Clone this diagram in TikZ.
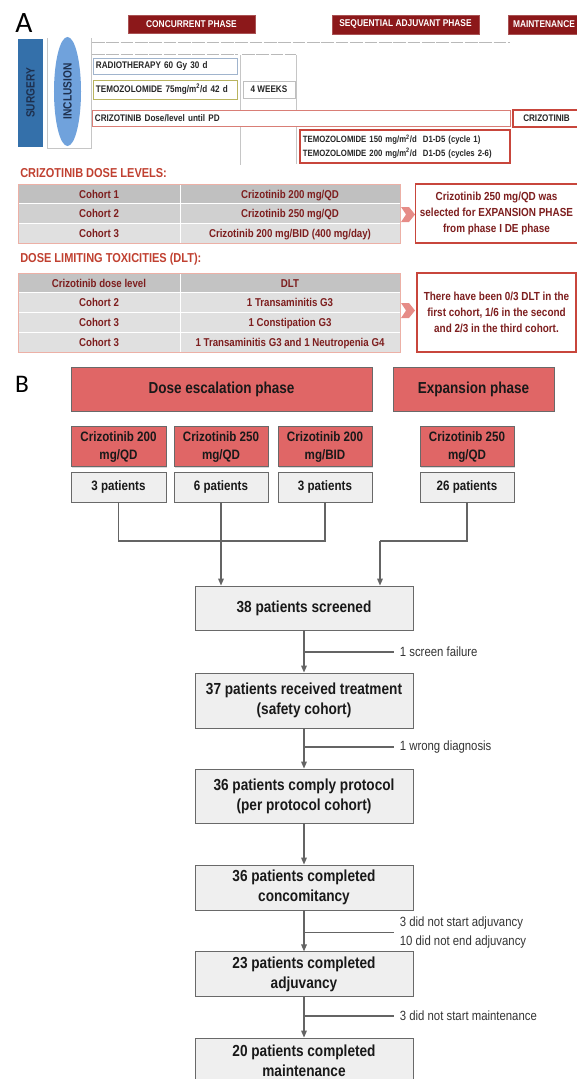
\documentclass[tikz,border=0pt]{standalone}
\usepackage{fontspec}
\setmainfont{Liberation Sans}[FakeStretch=0.85]
\newfontfamily\labfont{Carlito}
\usetikzlibrary{arrows.meta,shapes.geometric,shadows}

\definecolor{phasered}{RGB}{140,24,26}
\definecolor{surgblue}{RGB}{52,112,170}
\definecolor{inclblue}{RGB}{112,162,220}
\definecolor{navytext}{RGB}{30,48,78}
\definecolor{salmon}{RGB}{224,102,102}
\definecolor{boxgrey}{RGB}{239,239,239}
\definecolor{edgegrey}{RGB}{105,105,105}
\definecolor{linegrey}{RGB}{100,100,100}
\definecolor{rowdark}{RGB}{192,192,192}
\definecolor{rowmid}{RGB}{208,208,208}
\definecolor{rowlight}{RGB}{224,224,224}
\definecolor{tabframe}{RGB}{236,176,166}
\definecolor{maroon}{RGB}{125,30,30}
\definecolor{titlered}{RGB}{192,64,48}
\definecolor{sidered}{RGB}{200,70,60}
\definecolor{chevfill}{RGB}{230,140,135}
\definecolor{radioframe}{RGB}{160,180,205}
\definecolor{oliveframe}{RGB}{185,180,95}

\tikzset{
  phasebar/.style={fill=phasered,draw=phasered!75!white,text=white,inner sep=0pt,
    font=\fontsize{7}{8.4}\selectfont\bfseries},
  timeline/.style={draw=gray!55,line width=0.4pt,dash pattern=on 9pt off 1.2pt},
  guide/.style={draw=gray!45,line width=0.4pt},
  planbox/.style={draw,line width=0.5pt,fill=white,inner xsep=0.075cm,inner ysep=0pt,align=left,
    font=\fontsize{6.8}{10}\selectfont\bfseries,text=black!85},
  tabtitle/.style={text=titlered,inner sep=0pt,font=\fontsize{9.2}{11}\selectfont\bfseries},
  cell/.style={text=maroon,inner sep=0pt,text height=1.6ex,text depth=0.45ex,
    font=\fontsize{8.1}{9.7}\selectfont\bfseries},
  sidebox/.style={draw=sidered,line width=0.9pt,fill=white,align=center,text=maroon,
    font=\fontsize{8.3}{11.2}\selectfont\bfseries},
  headbar/.style={fill=salmon,draw=edgegrey,line width=0.6pt,text=black!90,
    drop shadow={shadow xshift=0.6pt,shadow yshift=-0.8pt,opacity=0.3},
    font=\fontsize{11.3}{13.5}\selectfont\bfseries},
  dosebox/.style={headbar,align=center,minimum height=0.975cm,
    font=\fontsize{9.7}{12.8}\selectfont\bfseries},
  ptsbox/.style={fill=boxgrey,draw=edgegrey,line width=0.6pt,text=black!90,minimum height=0.75cm,
    drop shadow={shadow xshift=0.6pt,shadow yshift=-0.8pt,opacity=0.3},
    font=\fontsize{9.7}{12.8}\selectfont\bfseries},
  flowbox/.style={fill=boxgrey,draw=edgegrey,line width=0.6pt,text=black!90,align=center,
    minimum width=5.45cm,drop shadow={shadow xshift=0.6pt,shadow yshift=-0.8pt,opacity=0.3},
    font=\fontsize{11.4}{14.2}\selectfont\bfseries},
  flowline/.style={draw=linegrey,line width=0.9pt},
  flowarrow/.style={flowline,-{Triangle[length=5pt,width=4pt]}},
  branchlabel/.style={text=black!80,inner xsep=4pt,inner ysep=0pt,align=left,
    font=\fontsize{9.5}{13.5}\selectfont}
}

\begin{document}
\begin{tikzpicture}[x=0.025cm,y=-0.025cm]
\useasboundingbox (0,0) rectangle (577,1079);

\node[font=\labfont\fontsize{21}{21}\selectfont,inner sep=0pt] (labA) at (24,23) {A};
\node[phasebar,minimum width=3.175cm,minimum height=0.45cm] (conc) at (191.5,24) {CONCURRENT PHASE};
\node[phasebar,minimum width=3.675cm,minimum height=0.475cm] (seqadj) at (405.5,24.5) {SEQUENTIAL ADJUVANT PHASE};
\node[phasebar,minimum width=1.8cm,minimum height=0.475cm] (maint) at (544,24.5) {MAINTENANCE};

\draw[timeline] (92,42) -- (510,42);
\draw[timeline] (92,54) -- (238,54);
\draw[timeline] (242,54) -- (296,54);
\draw[guide] (47,38) -- (47,148) -- (91,148) -- (91,38);
\draw[guide] (240,55) -- (240,165);
\draw[guide] (296,55) -- (296,164);

\node[rotate=90,fill=surgblue,text=navytext,inner sep=0pt,minimum width=2.7cm,minimum height=0.625cm,
  font=\fontsize{8.5}{10}\selectfont\bfseries] (surg) at (30.5,93) {SURGERY};
\node[rotate=90,ellipse,fill=inclblue,text=navytext,inner sep=0pt,minimum width=2.725cm,minimum height=0.675cm,
  font=\fontsize{8.5}{10}\selectfont\bfseries] (incl) at (67.5,91.5) {INCLUSION};

\node[planbox,draw=radioframe,text width=3.45cm,minimum height=0.4cm] (radio) at (165,66) {RADIOTHERAPY 60 Gy 30 d};
\node[planbox,draw=oliveframe,text width=3.45cm,minimum height=0.475cm] (tmzlow) at (165,89.5) {TEMOZOLOMIDE 75mg/m\textsuperscript{2}/d 42 d};
\node[planbox,draw=gray!50,align=center,minimum width=1.3cm,minimum height=0.425cm] (weeks) at (269,89.5) {4 WEEKS};
\node[planbox,draw=sidered!70,text width=10.3cm,minimum height=0.4cm] (crizo) at (301,118) {CRIZOTINIB Dose/level until PD};
\node[planbox,draw=sidered,line width=0.9pt,align=center,minimum width=1.675cm,minimum height=0.425cm] (crizomaint) at (546.5,118.5) {CRIZOTINIB};
\node[planbox,draw=sidered,line width=0.9pt,text width=5.1cm,minimum height=0.825cm,
  font=\fontsize{6.5}{9.8}\selectfont\bfseries] (tmzhigh) at (405,146.5)
  {TEMOZOLOMIDE 150 mg/m\textsuperscript{2}/d\ \ D1-D5 (cycle 1)\\TEMOZOLOMIDE 200 mg/m\textsuperscript{2}/d\ \ D1-D5 (cycles 2-6)};

\node[tabtitle,anchor=west] (dosetitle) at (20,173) {CRIZOTINIB DOSE LEVELS:};
\fill[rowdark] (18,184) rectangle (400,203.7);
\fill[rowmid] (18,203.7) rectangle (400,223.3);
\fill[rowlight] (18,223.3) rectangle (400,243);
\draw[white,line width=0.6pt] (18,203.7) -- (400,203.7) (18,223.3) -- (400,223.3) (180,184) -- (180,243);
\draw[tabframe,line width=0.6pt] (18,184) rectangle (400,243);
\node[cell] (coh1) at (99,193.8) {Cohort 1};
\node[cell] (dose1txt) at (290,193.8) {Crizotinib 200 mg/QD};
\node[cell] (coh2) at (99,213.5) {Cohort 2};
\node[cell] (dose2txt) at (290,213.5) {Crizotinib 250 mg/QD};
\node[cell] (coh3) at (99,233.1) {Cohort 3};
\node[cell] (dose3txt) at (290,233.1) {Crizotinib 200 mg/BID (400 mg/day)};
\fill[chevfill] (401,207) -- (409,207) -- (415,214.5) -- (409,222) -- (401,222) -- (406,214.5) -- cycle;
\node[sidebox,minimum width=3.975cm,minimum height=1.475cm] (select) at (496.5,213.5)
  {Crizotinib 250 mg/QD was\\selected for EXPANSION PHASE\\from phase I DE phase};

\node[tabtitle,anchor=west] (dlttitle) at (20,259) {DOSE LIMITING TOXICITIES (DLT):};
\fill[rowdark!95!white] (18,273) rectangle (400,292.75);
\fill[rowlight] (18,292.75) rectangle (400,352);
\draw[white,line width=0.6pt] (18,292.75) -- (400,292.75) (18,312.5) -- (400,312.5) (18,332.25) -- (400,332.25) (180,273) -- (180,352);
\draw[tabframe,line width=0.6pt] (18,273) rectangle (400,352);
\node[cell] (dlthead1) at (99,282.9) {Crizotinib dose level};
\node[cell] (dlthead2) at (290,282.9) {DLT};
\node[cell] (dltcoh2) at (99,302.6) {Cohort 2};
\node[cell] (dlt2) at (290,302.6) {1 Transaminitis G3};
\node[cell] (dltcoh3a) at (99,322.4) {Cohort 3};
\node[cell] (dlt3a) at (290,322.4) {1 Constipation G3};
\node[cell] (dltcoh3b) at (99,342.1) {Cohort 3};
\node[cell] (dlt3b) at (290,342.1) {1 Transaminitis G3 and 1 Neutropenia G4};
\fill[chevfill] (401,303) -- (409,303) -- (415,310.5) -- (409,318) -- (401,318) -- (406,310.5) -- cycle;
\node[sidebox,minimum width=3.975cm,minimum height=1.975cm] (dltnote) at (496.5,312.5)
  {There have been 0/3 DLT in the\\first cohort, 1/6 in the second\\and 2/3 in the third cohort.};

\node[font=\labfont\fontsize{18}{18}\selectfont,inner sep=0pt] (labB) at (22,384) {B};
\node[headbar,minimum width=7.525cm,minimum height=1.1cm] (escal) at (221.5,389) {Dose escalation phase};
\node[headbar,minimum width=4.025cm,minimum height=1.1cm] (expan) at (473.5,389) {Expansion phase};

\node[dosebox,minimum width=2.375cm] (dose1) at (118.5,446.5) {Crizotinib 200\\mg/QD};
\node[dosebox,minimum width=2.35cm] (dose2) at (221,446.5) {Crizotinib 250\\mg/QD};
\node[dosebox,minimum width=2.35cm] (dose3) at (325,446.5) {Crizotinib 200\\mg/BID};
\node[dosebox,minimum width=2.35cm] (dose4) at (467,446.5) {Crizotinib 250\\mg/QD};
\node[ptsbox,minimum width=2.375cm] (pts1) at (118.5,487) {3 patients};
\node[ptsbox,minimum width=2.35cm] (pts2) at (221,487) {6 patients};
\node[ptsbox,minimum width=2.35cm] (pts3) at (325,487) {3 patients};
\node[ptsbox,minimum width=2.35cm] (pts4) at (467,487) {26 patients};

\node[flowbox,minimum height=1.1cm] (screen) at (304,608) {38 patients screened};
\node[flowbox,minimum height=1.375cm] (treat) at (304,700.5) {37 patients received treatment\\(safety cohort)};
\node[flowbox,minimum height=1.35cm] (comply) at (304,796) {36 patients comply protocol\\(per protocol cohort)};
\node[flowbox,minimum height=1.125cm] (concom) at (304,887.5) {36 patients completed\\concomitancy};
\node[flowbox,minimum height=1.1cm] (adjuv) at (304,974) {23 patients completed\\adjuvancy};
\node[flowbox,minimum height=1.125cm] (mainten) at (304,1060.5) {20 patients completed\\maintenance};

\coordinate (joinR) at (325,541);
\coordinate (joinE) at (380,541);
\draw[flowline] (pts1.south) |- (joinR) -- (pts3.south);
\draw[flowarrow] (pts2.south) -- (pts2.south |- screen.north);
\draw[flowline] (pts4.south) |- (joinE);
\draw[flowarrow] (joinE) -- (joinE |- screen.north);

\draw[flowarrow] (screen.south) -- (treat.north);
\draw[flowarrow] (treat.south) -- (comply.north);
\draw[flowarrow] (comply.south) -- (concom.north);
\draw[flowarrow] (concom.south) -- (adjuv.north);
\draw[flowarrow] (adjuv.south) -- (mainten.north);

\coordinate (br1) at (304,652);
\coordinate (br2) at (304,747);
\coordinate (br3) at (304,932.5);
\coordinate (br4) at (304,1016);
\node[branchlabel,anchor=west] (fail1) at (394,652) {1 screen failure};
\node[branchlabel,anchor=west] (fail2) at (394,747) {1 wrong diagnosis};
\node[branchlabel,anchor=west] (fail3) at (394,932.5) {3 did not start adjuvancy\\10 did not end adjuvancy};
\node[branchlabel,anchor=west] (fail4) at (394,1016) {3 did not start maintenance};
\draw[flowline] (br1) -- (fail1.west);
\draw[flowline] (br2) -- (fail2.west);
\draw[flowline] (br3) -- (fail3.west);
\draw[flowline] (br4) -- (fail4.west);
\end{tikzpicture}
\end{document}
